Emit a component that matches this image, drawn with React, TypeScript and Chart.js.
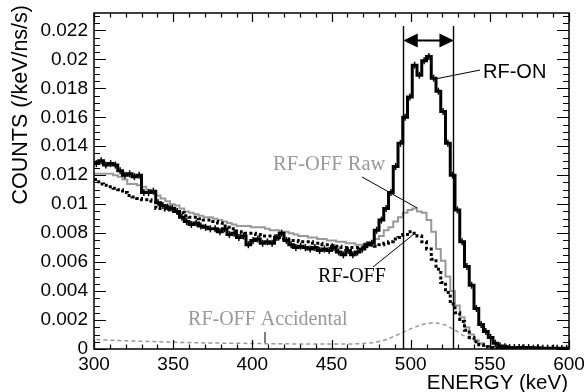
import React, { useEffect, useRef } from 'react';
import { Chart, registerables } from 'chart.js';
Chart.register(...registerables);

// ---------- data ----------
const BIN_START = 300; // keV
const BIN_WIDTH = 3; // keV

// counts (/keV/ns/s) per 3 keV bin, 300 .. 600 keV
const rfOn = [
  0.0128, 0.0130, 0.0127, 0.0128, 0.0127, 0.0123, 0.0120, 0.0121, 0.0119, 0.0120,
  0.0108, 0.0108, 0.0109, 0.0101, 0.0099, 0.0098, 0.0097, 0.0095, 0.0091, 0.0088,
  0.0086, 0.0087, 0.0085, 0.0084, 0.0083, 0.0083, 0.0081, 0.0083, 0.0079, 0.0080,
  0.0077, 0.0078, 0.0072, 0.0075, 0.0076, 0.0073, 0.0074, 0.0073, 0.0077, 0.0080,
  0.0075, 0.0072, 0.0070, 0.0071, 0.0070, 0.0069, 0.0070, 0.0068, 0.0069, 0.0068,
  0.0070, 0.0067, 0.0065, 0.0068, 0.0065, 0.0067, 0.0069, 0.0072, 0.0073, 0.0082,
  0.0089, 0.0097, 0.0108, 0.0126, 0.0142, 0.0160, 0.0174, 0.0196, 0.0189, 0.0199,
  0.0202, 0.0187, 0.0178, 0.0164, 0.0142, 0.0120, 0.0096, 0.0074, 0.0057, 0.0044,
  0.0028, 0.0017, 0.0012, 0.0008, 0.0004, 0.0002, 0.00015, 0.0001, 0.0001, 0.0001,
  0.00008, 0.0001, 0.00006, 0.00008, 0.00005, 0.00006, 0.00004, 0.00005, 0.00004, 0.00005,
];

const rfOffRaw = [
  0.0121, 0.0121, 0.0121, 0.0121, 0.0120, 0.0119, 0.0117, 0.0114, 0.0114, 0.0113,
  0.0112, 0.0110, 0.0108, 0.0106, 0.0104, 0.0102, 0.0100, 0.0099, 0.0097, 0.0095,
  0.0094, 0.0093, 0.0092, 0.0091, 0.0091, 0.0090, 0.0089, 0.0088, 0.0087, 0.0086,
  0.0085, 0.0085, 0.0085, 0.0084, 0.0084, 0.0084, 0.0083, 0.0082, 0.0082, 0.0081,
  0.0081, 0.0080, 0.0079, 0.0078, 0.0078, 0.0077, 0.0077, 0.0076, 0.0076, 0.0075,
  0.0075, 0.0074, 0.0074, 0.0073, 0.0073, 0.0072, 0.0072, 0.0073, 0.0074, 0.0076,
  0.0078, 0.0082, 0.0084, 0.0088, 0.0091, 0.0094, 0.0096, 0.0097, 0.0095, 0.0094,
  0.0089, 0.0081, 0.0069, 0.0061, 0.0050, 0.0040, 0.0030, 0.0022, 0.0015, 0.0010,
  0.0006, 0.0004, 0.0002, 0.00015, 0.0001, 0.0001, 0.00008, 0.00008, 0.00006, 0.00006,
  0.00005, 0.00005, 0.00005, 0.00005, 0.00005, 0.00005, 0.00005, 0.00005, 0.00005, 0.00005,
];

const rfOff = [
  0.0117, 0.0114, 0.0113, 0.0112, 0.0111, 0.0110, 0.0108, 0.0106, 0.0105, 0.0104,
  0.0103, 0.0103, 0.0102, 0.0097, 0.0097, 0.0096, 0.0095, 0.0094, 0.0094, 0.0092,
  0.0091, 0.0091, 0.0090, 0.0089, 0.0089, 0.0088, 0.0087, 0.0085, 0.0084, 0.0083,
  0.0081, 0.0080, 0.0080, 0.0080, 0.0079, 0.0078, 0.0078, 0.0078, 0.0077, 0.0076,
  0.0076, 0.0075, 0.0075, 0.0074, 0.0074, 0.0074, 0.0073, 0.0073, 0.0072, 0.0072,
  0.0071, 0.0071, 0.0070, 0.0070, 0.0070, 0.0070, 0.0070, 0.0071, 0.0072, 0.0071,
  0.0072, 0.0073, 0.0074, 0.0076, 0.0077, 0.0079, 0.0081, 0.0080, 0.0078, 0.0074,
  0.0069, 0.0062, 0.0055, 0.0046, 0.0039, 0.0031, 0.0025, 0.0019, 0.0013, 0.0008,
  0.0005, 0.0003, 0.00015, 0.0001, 0.00006, 0.00005, 0.00005, 0.00005, 0.00005, 0.00005,
  0.00004, 0.00004, 0.00004, 0.00004, 0.00004, 0.00004, 0.00004, 0.00004, 0.00004, 0.00004,
];

const rfOffAccidental = [
  0.00065, 0.00063, 0.00062, 0.0006, 0.0006, 0.00058, 0.00057, 0.00056, 0.00055, 0.00054,
  0.00053, 0.00052, 0.00051, 0.0005, 0.00049, 0.00048, 0.00047, 0.00046, 0.00045, 0.00045,
  0.00044, 0.00043, 0.00043, 0.00042, 0.00042, 0.00041, 0.00041, 0.0004, 0.0004, 0.0004,
  0.00039, 0.00039, 0.00038, 0.00038, 0.00038, 0.00037, 0.00037, 0.00037, 0.00036, 0.00036,
  0.00036, 0.00035, 0.00035, 0.00035, 0.00035, 0.00034, 0.00034, 0.00034, 0.00034, 0.00034,
  0.00034, 0.00034, 0.00034, 0.00035, 0.00035, 0.00036, 0.00038, 0.0004, 0.00043, 0.00048,
  0.00055, 0.00065, 0.00078, 0.00092, 0.00107, 0.00122, 0.00137, 0.0015, 0.00162, 0.00172,
  0.00178, 0.0018, 0.00177, 0.0017, 0.00158, 0.00138, 0.0012, 0.00098, 0.0008, 0.00062,
  0.00047, 0.00034, 0.00024, 0.00016, 0.00011, 0.00007, 0.00005, 0.00004, 0.00003, 0.00003,
  0.00002, 0.00002, 0.00002, 0.00002, 0.00002, 0.00002, 0.00002, 0.00002, 0.00002, 0.00002,
];

// axes
const X_MIN = 300;
const X_MAX = 600;
const X_STEP = 50;
const X_MINOR = 10;
const Y_MIN = 0;
const Y_MAX = 0.0232;
const Y_STEP = 0.002;
const Y_MINOR = 0.0005;
const X_TITLE = 'ENERGY (keV)';
const Y_TITLE = 'COUNTS (/keV/ns/s)';

// energy window and arrow
const WINDOW_LOW = 495;
const WINDOW_HIGH = 527;
const WINDOW_TOP = 0.0223;
const ARROW_LEVEL = 0.0213;

const SANS = '"Liberation Sans", Arial, Helvetica, sans-serif';
const SERIF = '"Liberation Serif", "Times New Roman", serif';

// annotations (text anchor and pointer line, in data units)
const annotations = [
  { text: 'RF-ON', x: 545.7, y: 0.0191, font: `20px ${SANS}`, color: '#000', line: [543.8, 0.01926, 515.4, 0.01864] },
  { text: 'RF-OFF Raw', x: 413.1, y: 0.0127, font: `20.5px ${SERIF}`, color: '#999', line: [469.3, 0.01188, 504.0, 0.00974] },
  { text: 'RF-OFF', x: 441.5, y: 0.00497, font: `20px ${SERIF}`, color: '#000', line: [476.2, 0.00566, 502.8, 0.0080] },
  { text: 'RF-OFF Accidental', x: 359.4, y: 0.0020, font: `20px ${SERIF}`, color: '#999', line: [408.0, 0.00117, 408.0, 0.00041] },
];

function histPoints(values: number[]) {
  const pts = [{ x: BIN_START, y: values[0] }];
  values.forEach((v, i) => pts.push({ x: BIN_START + (i + 0.5) * BIN_WIDTH, y: v }));
  pts.push({ x: BIN_START + values.length * BIN_WIDTH, y: values[values.length - 1] });
  return pts;
}

function centerPoints(values: number[]) {
  return values.map((v, i) => ({ x: BIN_START + (i + 0.5) * BIN_WIDTH, y: v }));
}

const decorPlugin = {
  id: 'decor',
  beforeDraw(chart: any) {
    const { ctx, width, height } = chart;
    ctx.save();
    ctx.fillStyle = '#fff';
    ctx.fillRect(0, 0, width, height);
    ctx.restore();
  },
  afterDatasetsDraw(chart: any) {
    const { ctx, chartArea: ca, scales } = chart;
    const xs = scales.x;
    const ys = scales.y;
    ctx.save();

    // error bars on RF-ON
    ctx.beginPath();
    ctx.rect(ca.left, ca.top, ca.right - ca.left, ca.bottom - ca.top);
    ctx.clip();
    ctx.strokeStyle = '#000';
    ctx.lineWidth = 1.5;
    rfOn.forEach((v, i) => {
      const px = xs.getPixelForValue(BIN_START + (i + 0.5) * BIN_WIDTH);
      const py = ys.getPixelForValue(v);
      ctx.beginPath();
      ctx.moveTo(px, py - 3.5);
      ctx.lineTo(px, py + 3.5);
      ctx.stroke();
    });
    ctx.restore();
    ctx.save();

    // window lines
    ctx.strokeStyle = '#000';
    ctx.lineWidth = 1.4;
    [WINDOW_LOW, WINDOW_HIGH].forEach((e) => {
      const px = Math.round(xs.getPixelForValue(e)) + 0.5;
      ctx.beginPath();
      ctx.moveTo(px, ys.getPixelForValue(0));
      ctx.lineTo(px, ys.getPixelForValue(WINDOW_TOP));
      ctx.stroke();
    });
    // arrow
    const ay = ys.getPixelForValue(ARROW_LEVEL);
    const ax1 = xs.getPixelForValue(WINDOW_LOW);
    const ax2 = xs.getPixelForValue(WINDOW_HIGH);
    ctx.lineWidth = 2;
    ctx.beginPath();
    ctx.moveTo(ax1 + 8, ay);
    ctx.lineTo(ax2 - 8, ay);
    ctx.stroke();
    ctx.fillStyle = '#000';
    ctx.beginPath();
    ctx.moveTo(ax1 + 0.5, ay);
    ctx.lineTo(ax1 + 15, ay - 7);
    ctx.lineTo(ax1 + 15, ay + 7);
    ctx.closePath();
    ctx.fill();
    ctx.beginPath();
    ctx.moveTo(ax2 + 0.5, ay);
    ctx.lineTo(ax2 - 14, ay - 7);
    ctx.lineTo(ax2 - 14, ay + 7);
    ctx.closePath();
    ctx.fill();

    // annotations
    annotations.forEach((a) => {
      ctx.strokeStyle = '#000';
      ctx.lineWidth = 1;
      ctx.beginPath();
      ctx.moveTo(xs.getPixelForValue(a.line[0]), ys.getPixelForValue(a.line[1]));
      ctx.lineTo(xs.getPixelForValue(a.line[2]), ys.getPixelForValue(a.line[3]));
      ctx.stroke();
      ctx.font = a.font;
      ctx.fillStyle = a.color;
      ctx.textAlign = 'left';
      ctx.textBaseline = 'middle';
      ctx.fillText(a.text, xs.getPixelForValue(a.x), ys.getPixelForValue(a.y));
    });

    // frame
    ctx.strokeStyle = '#000';
    ctx.lineWidth = 1.5;
    ctx.strokeRect(ca.left, ca.top, ca.right - ca.left, ca.bottom - ca.top);

    // inner ticks on all four sides
    ctx.lineWidth = 1.2;
    for (let v = X_MIN; v <= X_MAX + 1e-9; v += X_MINOR) {
      const major = Math.abs(((v - X_MIN) / X_STEP) - Math.round((v - X_MIN) / X_STEP)) < 1e-6;
      const len = major ? 9 : 4.5;
      const px = Math.round(xs.getPixelForValue(v)) + 0.5;
      ctx.beginPath();
      ctx.moveTo(px, ca.bottom);
      ctx.lineTo(px, ca.bottom - len);
      ctx.moveTo(px, ca.top);
      ctx.lineTo(px, ca.top + len);
      ctx.stroke();
    }
    for (let k = 0; k * Y_MINOR <= Y_MAX + 1e-12; k++) {
      const v = k * Y_MINOR;
      const major = k % 4 === 0;
      const len = major ? 12 : 6;
      const py = Math.round(ys.getPixelForValue(v)) + 0.5;
      ctx.beginPath();
      ctx.moveTo(ca.left, py);
      ctx.lineTo(ca.left + len, py);
      ctx.moveTo(ca.right, py);
      ctx.lineTo(ca.right - len, py);
      ctx.stroke();
    }

    // axis titles
    ctx.fillStyle = '#000';
    ctx.font = `20.5px ${SANS}`;
    ctx.textBaseline = 'middle';
    ctx.textAlign = 'right';
    ctx.fillText(X_TITLE, ca.right - 1, 383);
    ctx.font = `21.5px ${SANS}`;
    ctx.translate(21, 5);
    ctx.rotate(-Math.PI / 2);
    ctx.textAlign = 'right';
    ctx.fillText(Y_TITLE, 0, 0);
    ctx.restore();
  },
};

export default function App() {
  const ref = useRef<HTMLCanvasElement>(null);
  useEffect(() => {
    if (!ref.current) return;
    const chart = new Chart(ref.current, {
      type: 'line',
      data: {
        datasets: [
          {
            label: 'RF-ON',
            data: histPoints(rfOn),
            borderColor: '#000',
            borderWidth: 3,
            stepped: 'middle',
            pointRadius: 0,
            fill: false,
          },
          {
            label: 'RF-OFF',
            data: histPoints(rfOff),
            borderColor: '#000',
            borderWidth: 3,
            borderDash: [3, 2.5],
            borderCapStyle: 'butt',
            stepped: 'middle',
            pointRadius: 0,
            fill: false,
          },
          {
            label: 'RF-OFF Raw',
            data: histPoints(rfOffRaw),
            borderColor: '#999',
            borderWidth: 2,
            stepped: 'middle',
            pointRadius: 0,
            fill: false,
          },
          {
            label: 'RF-OFF Accidental',
            data: centerPoints(rfOffAccidental),
            borderColor: '#999',
            borderWidth: 1.5,
            borderDash: [4, 3],
            pointRadius: 0,
            tension: 0,
            fill: false,
          },
        ] as any,
      },
      options: {
        animation: false,
        responsive: false,
        devicePixelRatio: 1,
        layout: { padding: { left: 0, right: 15, top: 13, bottom: 0 } },
        plugins: { legend: { display: false }, tooltip: { enabled: false } },
        scales: {
          x: {
            type: 'linear',
            min: X_MIN,
            max: X_MAX,
            grid: { display: false, drawTicks: false },
            border: { display: false },
            ticks: {
              stepSize: X_STEP,
              includeBounds: false,
              maxRotation: 0,
              autoSkip: false,
              padding: 4,
              color: '#000',
              font: { family: SANS, size: 19 },
            },
            afterFit: (s: any) => {
              s.height = 43;
              s.paddingLeft = 0;
              s.paddingRight = 0;
            },
          },
          y: {
            type: 'linear',
            min: Y_MIN,
            max: Y_MAX,
            grid: { display: false, drawTicks: false },
            border: { display: false },
            ticks: {
              stepSize: Y_STEP,
              includeBounds: false,
              autoSkip: false,
              padding: 6,
              color: '#000',
              font: { family: SANS, size: 19 },
              callback: (v: any) => (v === 0 ? '0' : String(parseFloat(Number(v).toFixed(4)))),
            },
            afterFit: (s: any) => {
              s.width = 94;
              s.paddingTop = 0;
              s.paddingBottom = 0;
            },
          },
        },
      } as any,
      plugins: [decorPlugin],
    });
    return () => chart.destroy();
  }, []);

  return (
    <div style={{ position: 'absolute', left: 0, top: 0, width: 584, height: 392, background: '#fff' }}>
      <canvas ref={ref} width={584} height={392} />
    </div>
  );
}
